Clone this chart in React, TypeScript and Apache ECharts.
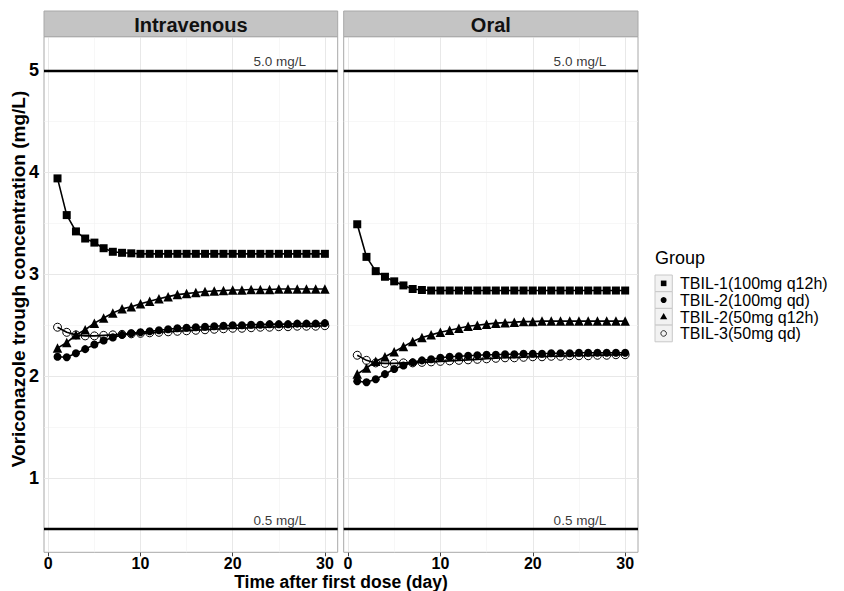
import React, { useEffect, useRef } from "react";
import * as echarts from "echarts";

const days = [1, 2, 3, 4, 5, 6, 7, 8, 9, 10, 11, 12, 13, 14, 15, 16, 17, 18, 19, 20, 21, 22, 23, 24, 25, 26, 27, 28, 29, 30];

const panels = ["Intravenous", "Oral"];
const groups = ["TBIL-1(100mg q12h)", "TBIL-2(100mg qd)", "TBIL-2(50mg q12h)", "TBIL-3(50mg qd)"];

// Intravenous
const ivTbil1 = [3.94, 3.58, 3.42, 3.35, 3.31, 3.255, 3.22, 3.21, 3.205, 3.2, 3.2, 3.2, 3.2, 3.2, 3.2, 3.2, 3.2, 3.2, 3.2, 3.2, 3.2, 3.2, 3.2, 3.2, 3.2, 3.2, 3.2, 3.2, 3.2, 3.2];
const ivTbil2a = [2.19, 2.185, 2.225, 2.265, 2.31, 2.35, 2.38, 2.405, 2.42, 2.43, 2.44, 2.45, 2.46, 2.47, 2.475, 2.48, 2.485, 2.49, 2.495, 2.5, 2.5, 2.505, 2.505, 2.51, 2.51, 2.51, 2.515, 2.515, 2.515, 2.52];
const ivTbil2b = [2.275, 2.33, 2.405, 2.455, 2.52, 2.57, 2.62, 2.66, 2.68, 2.71, 2.735, 2.76, 2.78, 2.8, 2.81, 2.82, 2.83, 2.835, 2.84, 2.845, 2.845, 2.85, 2.85, 2.85, 2.855, 2.855, 2.855, 2.855, 2.855, 2.855];
const ivTbil3 = [2.48, 2.43, 2.405, 2.395, 2.395, 2.4, 2.405, 2.41, 2.415, 2.42, 2.425, 2.43, 2.435, 2.44, 2.445, 2.45, 2.455, 2.46, 2.465, 2.47, 2.47, 2.475, 2.48, 2.48, 2.485, 2.485, 2.49, 2.49, 2.49, 2.495];

// Oral
const poTbil1 = [3.49, 3.17, 3.03, 2.975, 2.93, 2.89, 2.855, 2.845, 2.84, 2.84, 2.84, 2.84, 2.84, 2.84, 2.84, 2.84, 2.84, 2.84, 2.84, 2.84, 2.84, 2.84, 2.84, 2.84, 2.84, 2.84, 2.84, 2.84, 2.84, 2.84];
const poTbil2a = [1.95, 1.94, 1.97, 2.02, 2.07, 2.105, 2.135, 2.155, 2.165, 2.18, 2.19, 2.195, 2.2, 2.205, 2.21, 2.21, 2.215, 2.215, 2.22, 2.22, 2.22, 2.225, 2.225, 2.225, 2.23, 2.23, 2.23, 2.23, 2.23, 2.23];
const poTbil2b = [2.02, 2.08, 2.145, 2.19, 2.24, 2.29, 2.34, 2.38, 2.405, 2.43, 2.45, 2.47, 2.49, 2.5, 2.51, 2.52, 2.525, 2.53, 2.535, 2.535, 2.54, 2.54, 2.54, 2.54, 2.54, 2.54, 2.54, 2.54, 2.54, 2.54];
const poTbil3 = [2.205, 2.155, 2.13, 2.125, 2.125, 2.13, 2.13, 2.135, 2.14, 2.145, 2.15, 2.155, 2.16, 2.165, 2.17, 2.175, 2.18, 2.18, 2.185, 2.19, 2.19, 2.195, 2.195, 2.2, 2.2, 2.2, 2.205, 2.205, 2.21, 2.21];

const panelData = [
  [ivTbil1, ivTbil2a, ivTbil2b, ivTbil3],
  [poTbil1, poTbil2a, poTbil2b, poTbil3],
];

const xTicks = [0, 10, 20, 30];
const xMinor = [5, 15, 25];
const yTicks = [1, 2, 3, 4, 5];
const yMinor = [0.5, 1.5, 2.5, 3.5, 4.5];
const refLines = [5, 0.5];
const refLabels = ["5.0 mg/L", "0.5 mg/L"];
const refLabelPos = [[25.1, 5.086], [25.1, 0.585]];

const FONT = "'Liberation Sans', Arial, Helvetica, sans-serif";

const symbols = ["rect", "circle", "triangle", "circle"];
const symbolSizes = [8, 8, 9.5, 8];
const hollow = [false, false, false, true];

export default function App() {
  const ref = useRef<HTMLDivElement>(null);

  useEffect(() => {
    if (!ref.current) return;
    const chart = echarts.init(ref.current, undefined, { renderer: "svg" });

    const gridTop = 36.7;
    const gridH = 515.6;
    const grids = [
      { left: 44, width: 293.7 },
      { left: 343.7, width: 294.3 },
    ];
    const xMin = -0.466;
    const xMax = 31.39;
    const yMin = 0.272;
    const yMax = 5.33;

    const series: any[] = [];
    panels.forEach((_, pi) => {
      // gridlines
      series.push({
        type: "line",
        xAxisIndex: pi,
        yAxisIndex: pi,
        data: [],
        silent: true,
        z: 1,
        markLine: {
          silent: true,
          symbol: "none",
          animation: false,
          label: { show: false },
          data: [
            ...xMinor.map((v) => ({ xAxis: v, lineStyle: { color: "#f2f2f2", width: 0.6, type: "solid" } })),
            ...yMinor.map((v) => ({ yAxis: v, lineStyle: { color: "#f2f2f2", width: 0.6, type: "solid" } })),
            ...xTicks.map((v) => ({ xAxis: v, lineStyle: { color: "#e8e8e8", width: 1, type: "solid" } })),
            ...yTicks.map((v) => ({ yAxis: v, lineStyle: { color: "#e8e8e8", width: 1, type: "solid" } })),
          ],
        },
      });
      // reference lines
      series.push({
        type: "line",
        xAxisIndex: pi,
        yAxisIndex: pi,
        data: [],
        silent: true,
        z: 2,
        markLine: {
          silent: true,
          symbol: "none",
          animation: false,
          label: { show: false },
          lineStyle: { color: "#000", width: 2.4, type: "solid" },
          data: refLines.map((v) => ({ yAxis: v })),
        },
      });
      // reference labels
      series.push({
        type: "scatter",
        xAxisIndex: pi,
        yAxisIndex: pi,
        silent: true,
        symbolSize: 1,
        itemStyle: { color: "rgba(0,0,0,0)" },
        z: 3,
        data: refLabelPos.map((p, i) => ({ value: [p[0], p[1]], name: refLabels[i] })),
        label: {
          show: true,
          position: "inside",
          formatter: (p: any) => p.name,
          fontSize: 13.5,
          fontFamily: FONT,
          color: "#000",
        },
      });
      // data series
      panelData[pi].forEach((vals, gi) => {
        series.push({
          type: "line",
          name: groups[gi],
          xAxisIndex: pi,
          yAxisIndex: pi,
          data: days.map((d, k) => [d, vals[k]]),
          symbol: symbols[gi],
          symbolSize: symbolSizes[gi],
          showSymbol: true,
          z: 5 + gi,
          lineStyle: { color: "#000", width: 1.6 },
          itemStyle: hollow[gi]
            ? { color: "rgba(255,255,255,0)", borderColor: "#000", borderWidth: 1 }
            : { color: "#000", borderWidth: 0 },
        });
      });
    });

    const graphic: any[] = [];
    grids.forEach((g, pi) => {
      graphic.push({
        type: "rect",
        shape: { x: g.left, y: 11, width: g.width, height: gridTop - 11 },
        style: { fill: "#c4c4c4", stroke: "#a8a8a8", lineWidth: 1 },
        z: 10,
      });
      graphic.push({
        type: "text",
        x: g.left + g.width / 2,
        y: (11 + gridTop) / 2 + 1,
        style: {
          text: panels[pi],
          fontSize: 20,
          fontWeight: "bold",
          fontFamily: FONT,
          fill: "#111",
          textAlign: "center",
          textVerticalAlign: "middle",
        },
        z: 11,
      });
    });
    // axis titles
    graphic.push({
      type: "text",
      x: 341,
      y: 582,
      style: {
        text: "Time after first dose (day)",
        fontSize: 17.5,
        fontWeight: "bold",
        fontFamily: FONT,
        fill: "#000",
        textAlign: "center",
        textVerticalAlign: "middle",
      },
    });
    graphic.push({
      type: "text",
      x: 18,
      y: 279,
      rotation: Math.PI / 2,
      style: {
        text: "Voriconazole trough concentration (mg/L)",
        fontSize: 19,
        fontWeight: "bold",
        fontFamily: FONT,
        fill: "#000",
        textAlign: "center",
        textVerticalAlign: "middle",
      },
    });
    // legend
    graphic.push({
      type: "text",
      x: 655,
      y: 258,
      style: {
        text: "Group",
        fontSize: 18,
        fontFamily: FONT,
        fill: "#000",
        textAlign: "left",
        textVerticalAlign: "middle",
      },
    });
    const keyTop = 275;
    const keyH = 16.7;
    const keyW = 17.3;
    groups.forEach((name, gi) => {
      const cy = keyTop + keyH * gi + keyH / 2;
      const cx = 655 + keyW / 2;
      graphic.push({
        type: "rect",
        shape: { x: 655, y: keyTop + keyH * gi, width: keyW, height: keyH },
        style: { fill: "#f2f2f2", stroke: "#c8c8c8", lineWidth: 1 },
      });
      let sym: any;
      if (gi === 0) {
        sym = { type: "rect", shape: { x: cx - 2.8, y: cy - 2.8, width: 5.6, height: 5.6 }, style: { fill: "#000" } };
      } else if (gi === 1) {
        sym = { type: "circle", shape: { cx, cy, r: 3 }, style: { fill: "#000" } };
      } else if (gi === 2) {
        sym = { type: "polygon", shape: { points: [[cx, cy - 3.8], [cx + 3.6, cy + 2.6], [cx - 3.6, cy + 2.6]] }, style: { fill: "#000" } };
      } else {
        sym = { type: "circle", shape: { cx, cy, r: 2.8 }, style: { fill: "none", stroke: "#000", lineWidth: 0.8 } };
      }
      sym.z = 2;
      graphic.push(sym);
      graphic.push({
        type: "text",
        x: 680,
        y: cy + 0.5,
        style: {
          text: name,
          fontSize: 16,
          fontFamily: FONT,
          fill: "#000",
          textAlign: "left",
          textVerticalAlign: "middle",
        },
      });
    });

    const option: any = {
      animation: false,
      backgroundColor: "#fff",
      grid: grids.map((g) => ({
        left: g.left,
        top: gridTop,
        width: g.width,
        height: gridH,
        show: true,
        borderColor: "#a8a8a8",
        borderWidth: 1,
        backgroundColor: "#fff",
        containLabel: false,
      })),
      xAxis: grids.map((_, pi) => ({
        type: "value",
        gridIndex: pi,
        min: xMin,
        max: xMax,
        axisLine: { show: false },
        splitLine: { show: false },
        axisTick: { show: true, customValues: xTicks, length: 4, lineStyle: { color: "#444", width: 1 } },
        axisLabel: {
          show: true,
          customValues: xTicks,
          fontSize: 16,
          fontWeight: "bold",
          fontFamily: FONT,
          color: "#000",
          margin: 3,
        },
      })),
      yAxis: grids.map((_, pi) => ({
        type: "value",
        gridIndex: pi,
        min: yMin,
        max: yMax,
        axisLine: { show: false },
        splitLine: { show: false },
        axisTick: pi === 0
          ? { show: true, customValues: yTicks, length: 4, lineStyle: { color: "#444", width: 1 } }
          : { show: false },
        axisLabel: pi === 0
          ? {
              show: true,
              customValues: yTicks,
              fontSize: 18,
              fontWeight: "bold",
              fontFamily: FONT,
              color: "#000",
              margin: 5,
            }
          : { show: false },
      })),
      series,
      graphic,
    };

    chart.setOption(option);
    return () => chart.dispose();
  }, []);

  return (
    <div
      ref={ref}
      style={{ position: "absolute", left: 0, top: 0, width: 844, height: 591, background: "#fff" }}
    />
  );
}
